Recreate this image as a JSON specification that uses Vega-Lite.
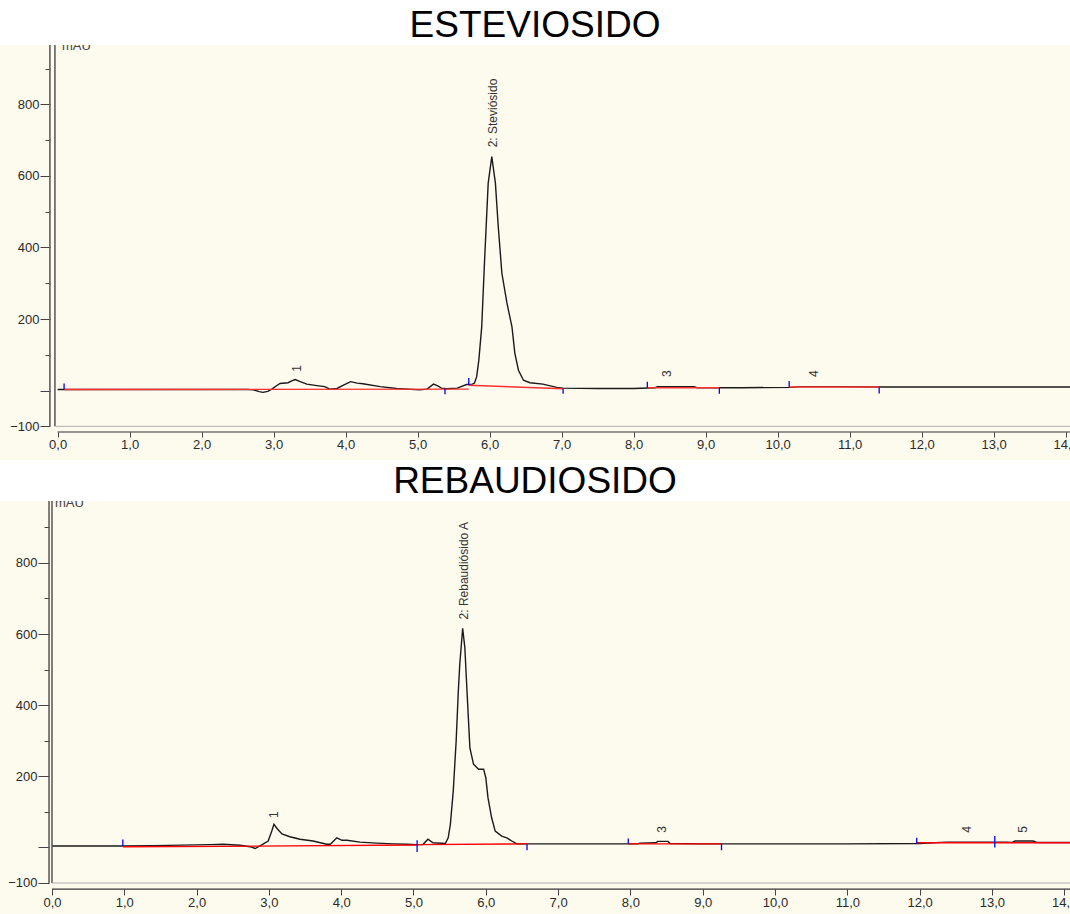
{
  "$schema": "https://vega.github.io/schema/vega-lite/v6.json",
  "padding": {"left": 0, "top": 7, "right": 0, "bottom": 0},
  "background": "white",
  "spacing": 3,
  "config": {
    "view": {"stroke": null, "fill": "#fdfaee"},
    "title": {"font": "Liberation Sans", "fontSize": 37, "fontWeight": "normal", "color": "#000000", "anchor": "middle", "frame": "group", "offset": -1},
    "axis": {"labelFont": "Liberation Sans", "labelFontSize": 13, "labelColor": "#2a2a2a", "tickColor": "#444444", "domain": false, "grid": false}
  },
  "datasets": {
    "one": [{}],
    "tr1": [
      {"t":0,"v":3},{"t":1.4,"v":3},{"t":2.0,"v":3},{"t":2.64,"v":3},{"t":2.72,"v":2},{"t":2.8,"v":-3},{"t":2.85,"v":-5},{"t":2.92,"v":-2},{"t":2.98,"v":5},{"t":3.05,"v":15},{"t":3.09,"v":20},{"t":3.2,"v":22},{"t":3.26,"v":28},{"t":3.3,"v":31},{"t":3.37,"v":25},{"t":3.46,"v":18},{"t":3.6,"v":14},{"t":3.71,"v":11},{"t":3.78,"v":4},{"t":3.88,"v":6},{"t":3.97,"v":15},{"t":4.07,"v":25},{"t":4.16,"v":21},{"t":4.24,"v":19},{"t":4.48,"v":11},{"t":4.71,"v":6},{"t":5.03,"v":2},{"t":5.13,"v":4},{"t":5.22,"v":18},{"t":5.28,"v":13},{"t":5.33,"v":7},{"t":5.4,"v":5},{"t":5.55,"v":7},{"t":5.68,"v":17},{"t":5.76,"v":18},{"t":5.79,"v":21},{"t":5.82,"v":39},{"t":5.85,"v":85},{"t":5.89,"v":178},{"t":5.93,"v":365},{"t":5.98,"v":580},{"t":6.03,"v":654},{"t":6.08,"v":580},{"t":6.12,"v":458},{"t":6.17,"v":328},{"t":6.24,"v":245},{"t":6.31,"v":178},{"t":6.35,"v":105},{"t":6.4,"v":57},{"t":6.47,"v":29},{"t":6.56,"v":22},{"t":6.74,"v":18},{"t":6.93,"v":9},{"t":7.02,"v":7},{"t":7.5,"v":6},{"t":8.0,"v":6},{"t":8.3,"v":8},{"t":8.33,"v":11},{"t":8.84,"v":11},{"t":8.88,"v":8},{"t":9.5,"v":8},{"t":10.2,"v":9},{"t":10.28,"v":11},{"t":10.78,"v":11},{"t":11.5,"v":10},{"t":12.5,"v":10},{"t":13.5,"v":10},{"t":14.1,"v":10}
    ],
    "bl1": [
      {"seg":"a","t":0.09,"v":3},{"seg":"a","t":5.71,"v":4},
      {"seg":"b","t":5.71,"v":15},{"seg":"b","t":7.02,"v":5},
      {"seg":"c","t":8.19,"v":8},{"seg":"c","t":9.19,"v":8},
      {"seg":"d","t":10.16,"v":10},{"seg":"d","t":11.41,"v":10}
    ],
    "tk1": [
      {"t":0.09,"v1":3,"v2":20},{"t":5.38,"v1":5,"v2":-10},{"t":5.71,"v1":15,"v2":35},{"t":7.02,"v1":6,"v2":-9},{"t":8.19,"v1":8,"v2":25},{"t":9.19,"v1":7,"v2":-9},{"t":10.16,"v1":10,"v2":27},{"t":11.41,"v1":9,"v2":-8}
    ],
    "lb1": [
      {"t":3.32,"v":53,"label":"1"},{"t":6.04,"v":680,"label":"2: Steviósido"},{"t":8.46,"v":38,"label":"3"},{"t":10.5,"v":38,"label":"4"}
    ],
    "tr2": [
      {"t":0,"v":4},{"t":0.98,"v":4},{"t":1.4,"v":5},{"t":2.19,"v":8},{"t":2.37,"v":9},{"t":2.6,"v":6},{"t":2.74,"v":2},{"t":2.81,"v":-3},{"t":2.9,"v":7},{"t":2.99,"v":18},{"t":3.04,"v":46},{"t":3.07,"v":65},{"t":3.11,"v":54},{"t":3.18,"v":38},{"t":3.29,"v":30},{"t":3.43,"v":23},{"t":3.61,"v":18},{"t":3.8,"v":9},{"t":3.85,"v":9},{"t":3.94,"v":27},{"t":4.01,"v":20},{"t":4.08,"v":20},{"t":4.26,"v":15},{"t":4.49,"v":12},{"t":4.72,"v":10},{"t":4.91,"v":9},{"t":5.05,"v":8},{"t":5.13,"v":8},{"t":5.2,"v":23},{"t":5.27,"v":13},{"t":5.44,"v":11},{"t":5.48,"v":27},{"t":5.51,"v":65},{"t":5.55,"v":159},{"t":5.59,"v":299},{"t":5.62,"v":440},{"t":5.64,"v":515},{"t":5.68,"v":616},{"t":5.71,"v":562},{"t":5.74,"v":440},{"t":5.78,"v":280},{"t":5.83,"v":234},{"t":5.9,"v":220},{"t":5.97,"v":220},{"t":6.0,"v":196},{"t":6.03,"v":140},{"t":6.08,"v":84},{"t":6.13,"v":46},{"t":6.22,"v":32},{"t":6.29,"v":27},{"t":6.36,"v":18},{"t":6.43,"v":10},{"t":6.57,"v":10},{"t":7.5,"v":10},{"t":8.1,"v":10},{"t":8.13,"v":12},{"t":8.35,"v":13},{"t":8.38,"v":17},{"t":8.52,"v":17},{"t":8.55,"v":11},{"t":9.0,"v":10},{"t":10,"v":10},{"t":11,"v":10},{"t":12.0,"v":11},{"t":12.37,"v":15},{"t":13.2,"v":15},{"t":13.28,"v":14},{"t":13.32,"v":18},{"t":13.57,"v":18},{"t":13.62,"v":14},{"t":14.1,"v":14}
    ],
    "bl2": [
      {"seg":"a","t":0.98,"v":2},{"seg":"a","t":2.37,"v":3},{"seg":"a","t":5.05,"v":7},
      {"seg":"b","t":5.05,"v":8},{"seg":"b","t":6.57,"v":10},
      {"seg":"c","t":7.97,"v":10},{"seg":"c","t":9.26,"v":10},
      {"seg":"d","t":11.96,"v":13},{"seg":"d","t":14.1,"v":13}
    ],
    "tk2": [
      {"t":0.98,"v1":4,"v2":22},{"t":5.05,"v1":-13,"v2":20},{"t":6.57,"v1":9,"v2":-8},{"t":7.97,"v1":10,"v2":25},{"t":9.26,"v1":10,"v2":-8},{"t":11.96,"v1":10,"v2":27},{"t":13.04,"v1":0,"v2":32}
    ],
    "lb2": [
      {"t":3.07,"v":83,"label":"1"},{"t":5.7,"v":641,"label":"2: Rebaudiósido A"},{"t":8.44,"v":41,"label":"3"},{"t":12.65,"v":41,"label":"4"},{"t":13.43,"v":41,"label":"5"}
    ]
  },
  "vconcat": [
    {
      "title": {"text": "ESTEVIOSIDO"},
      "width": 1070,
      "height": 415,
      "layer": [
        {
          "data": {"name": "tr1"},
          "mark": {"type": "line", "color": "#1a1a1a", "strokeWidth": 1.4},
          "encoding": {
            "x": {"field": "t", "type": "quantitative", "title": null,
              "scale": {"domain": [-0.8, 14.06], "nice": false, "zero": false},
              "axis": {"orient": "bottom", "offset": -28, "title": null,
                "values": [0,0.25,0.5,0.75,1,1.25,1.5,1.75,2,2.25,2.5,2.75,3,3.25,3.5,3.75,4,4.25,4.5,4.75,5,5.25,5.5,5.75,6,6.25,6.5,6.75,7,7.25,7.5,7.75,8,8.25,8.5,8.75,9,9.25,9.5,9.75,10,10.25,10.5,10.75,11,11.25,11.5,11.75,12,12.25,12.5,12.75,13,13.25,13.5,13.75,14],
                "tickSize": {"condition": {"test": "datum.value % 1 === 0", "value": 5}, "value": 3},
                "labelExpr": "datum.value % 1 === 0 ? replace(format(datum.value, '.1f'), '.', ',') : ''",
                "labelPadding": 1, "labelOverlap": false, "labelFlush": false, "labelBound": false}},
            "y": {"field": "v", "type": "quantitative", "title": null,
              "scale": {"domain": [-194, 966], "nice": false, "zero": false},
              "axis": {"orient": "left", "offset": -50, "title": null,
                "values": [-100,-50,0,50,100,150,200,250,300,350,400,450,500,550,600,650,700,750,800,850,900,950],
                "tickSize": {"condition": {"test": "datum.value % 200 === 0 || datum.value === -100", "value": 10}, "value": 5},
                "labelExpr": "indexof([-100,200,400,600,800], datum.value) >= 0 ? datum.label : ''",
                "labelPadding": 1, "labelOverlap": false}}
          }
        },
        {
          "data": {"name": "one"},
          "mark": {"type": "rule", "color": "#555555", "strokeWidth": 1.5},
          "encoding": {"x": {"datum": -0.107, "type": "quantitative"}, "y": {"datum": -100, "type": "quantitative"}, "y2": {"datum": 966}}
        },
        {
          "data": {"name": "one"},
          "mark": {"type": "rule", "color": "#555555", "strokeWidth": 1.5},
          "encoding": {"x": {"datum": -0.037, "type": "quantitative"}, "y": {"datum": -100, "type": "quantitative"}, "y2": {"datum": 966}}
        },
        {
          "data": {"name": "one"},
          "mark": {"type": "rule", "color": "#b0b0b0", "strokeWidth": 1},
          "encoding": {"x": {"datum": -0.037, "type": "quantitative"}, "x2": {"datum": 14.06}, "y": {"datum": -100, "type": "quantitative"}}
        },
        {
          "data": {"name": "one"},
          "mark": {"type": "rule", "color": "#333333", "strokeWidth": 1.2},
          "encoding": {"x": {"datum": 0, "type": "quantitative"}, "x2": {"datum": 14.06}, "y": {"datum": -115.7, "type": "quantitative"}}
        },
        {
          "data": {"name": "bl1"},
          "mark": {"type": "line", "color": "#ff3030", "strokeWidth": 1.4},
          "encoding": {"x": {"field": "t", "type": "quantitative"}, "y": {"field": "v", "type": "quantitative"}, "detail": {"field": "seg"}}
        },
        {
          "data": {"name": "tk1"},
          "mark": {"type": "rule", "color": "#0000ff", "strokeWidth": 1.3},
          "encoding": {"x": {"field": "t", "type": "quantitative"}, "y": {"field": "v1", "type": "quantitative"}, "y2": {"field": "v2"}}
        },
        {
          "data": {"name": "lb1"},
          "mark": {"type": "text", "angle": 270, "align": "left", "baseline": "middle", "font": "Liberation Sans", "fontSize": 12, "color": "#333333"},
          "encoding": {"x": {"field": "t", "type": "quantitative"}, "y": {"field": "v", "type": "quantitative"}, "text": {"field": "label"}}
        },
        {
          "data": {"name": "one"},
          "mark": {"type": "text", "text": "mAU", "align": "left", "baseline": "alphabetic", "font": "Liberation Sans", "fontSize": 13, "color": "#444444", "clip": true},
          "encoding": {"x": {"datum": 0.06, "type": "quantitative"}, "y": {"datum": 952, "type": "quantitative"}}
        }
      ]
    },
    {
      "title": {"text": "REBAUDIOSIDO"},
      "width": 1070,
      "height": 414,
      "layer": [
        {
          "data": {"name": "tr2"},
          "mark": {"type": "line", "color": "#1a1a1a", "strokeWidth": 1.4},
          "encoding": {
            "x": {"field": "t", "type": "quantitative", "title": null,
              "scale": {"domain": [-0.719, 14.08], "nice": false, "zero": false},
              "axis": {"orient": "bottom", "offset": -26, "title": null,
                "values": [0,0.25,0.5,0.75,1,1.25,1.5,1.75,2,2.25,2.5,2.75,3,3.25,3.5,3.75,4,4.25,4.5,4.75,5,5.25,5.5,5.75,6,6.25,6.5,6.75,7,7.25,7.5,7.75,8,8.25,8.5,8.75,9,9.25,9.5,9.75,10,10.25,10.5,10.75,11,11.25,11.5,11.75,12,12.25,12.5,12.75,13,13.25,13.5,13.75,14],
                "tickSize": {"condition": {"test": "datum.value % 1 === 0", "value": 6}, "value": 3},
                "labelExpr": "datum.value % 1 === 0 ? replace(format(datum.value, '.1f'), '.', ',') : ''",
                "labelPadding": 1, "labelOverlap": false, "labelFlush": false, "labelBound": false}},
            "y": {"field": "v", "type": "quantitative", "title": null,
              "scale": {"domain": [-190, 974], "nice": false, "zero": false},
              "axis": {"orient": "left", "offset": -49, "title": null,
                "values": [-100,-50,0,50,100,150,200,250,300,350,400,450,500,550,600,650,700,750,800,850,900,950],
                "tickSize": {"condition": {"test": "datum.value % 200 === 0 || datum.value === -100", "value": 11}, "value": 5},
                "labelExpr": "indexof([-100,200,400,600,800], datum.value) >= 0 ? datum.label : ''",
                "labelPadding": 1, "labelOverlap": false}}
          }
        },
        {
          "data": {"name": "one"},
          "mark": {"type": "rule", "color": "#555555", "strokeWidth": 1.5},
          "encoding": {"x": {"datum": -0.041, "type": "quantitative"}, "y": {"datum": -100, "type": "quantitative"}, "y2": {"datum": 974}}
        },
        {
          "data": {"name": "one"},
          "mark": {"type": "rule", "color": "#555555", "strokeWidth": 1.5},
          "encoding": {"x": {"datum": 0, "type": "quantitative"}, "y": {"datum": -100, "type": "quantitative"}, "y2": {"datum": 974}}
        },
        {
          "data": {"name": "one"},
          "mark": {"type": "rule", "color": "#b0b0b0", "strokeWidth": 1},
          "encoding": {"x": {"datum": 0, "type": "quantitative"}, "x2": {"datum": 14.08}, "y": {"datum": -100, "type": "quantitative"}}
        },
        {
          "data": {"name": "one"},
          "mark": {"type": "rule", "color": "#333333", "strokeWidth": 1.2},
          "encoding": {"x": {"datum": 0, "type": "quantitative"}, "x2": {"datum": 14.08}, "y": {"datum": -117, "type": "quantitative"}}
        },
        {
          "data": {"name": "bl2"},
          "mark": {"type": "line", "color": "#ff0000", "strokeWidth": 1.4},
          "encoding": {"x": {"field": "t", "type": "quantitative"}, "y": {"field": "v", "type": "quantitative"}, "detail": {"field": "seg"}}
        },
        {
          "data": {"name": "tk2"},
          "mark": {"type": "rule", "color": "#0000ff", "strokeWidth": 1.3},
          "encoding": {"x": {"field": "t", "type": "quantitative"}, "y": {"field": "v1", "type": "quantitative"}, "y2": {"field": "v2"}}
        },
        {
          "data": {"name": "lb2"},
          "mark": {"type": "text", "angle": 270, "align": "left", "baseline": "middle", "font": "Liberation Sans", "fontSize": 12, "color": "#333333"},
          "encoding": {"x": {"field": "t", "type": "quantitative"}, "y": {"field": "v", "type": "quantitative"}, "text": {"field": "label"}}
        },
        {
          "data": {"name": "one"},
          "mark": {"type": "text", "text": "mAU", "align": "left", "baseline": "alphabetic", "font": "Liberation Sans", "fontSize": 13, "color": "#444444", "clip": true},
          "encoding": {"x": {"datum": 0.04, "type": "quantitative"}, "y": {"datum": 957, "type": "quantitative"}}
        }
      ]
    }
  ]
}
